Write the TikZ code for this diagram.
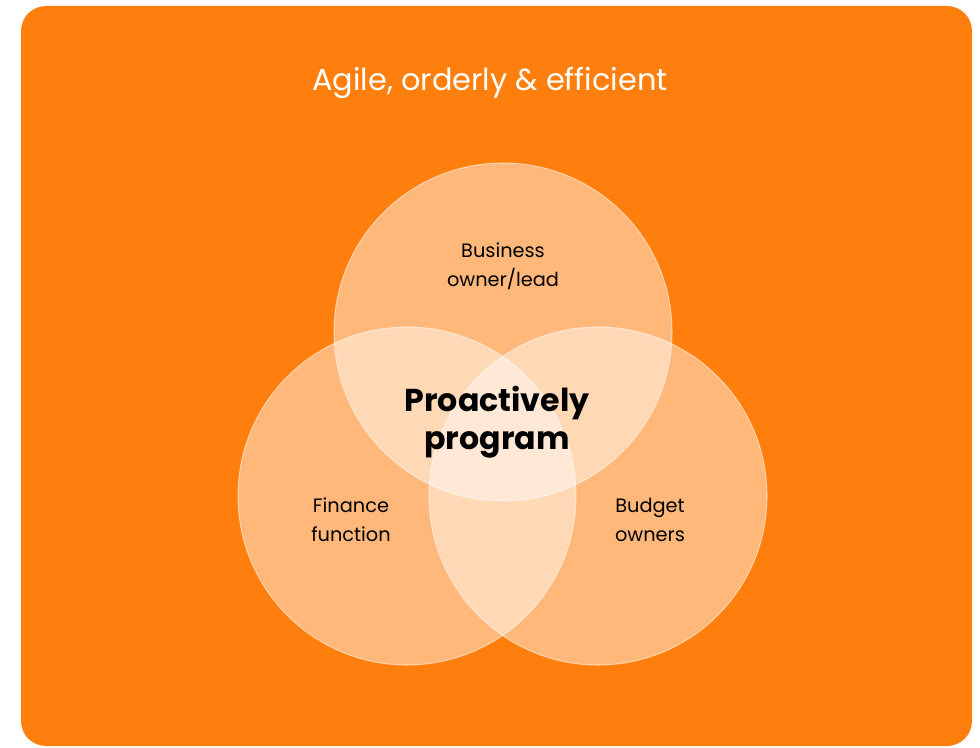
\documentclass[tikz,border=0pt]{standalone}
\usepackage{fontspec}
\setmainfont{Poppins}
\definecolor{brand}{HTML}{FF7F0E}

\begin{document}
\begin{tikzpicture}[
  ring/.style={circle, minimum size=6.76cm, fill=white, fill opacity=0.45, draw=white, draw opacity=0.5, line width=0.6pt},
  lbl/.style={align=center, font=\fontsize{11}{16.5}\selectfont, text=black}
]
\useasboundingbox (0,0) rectangle (19.6,14.94);
\fill[brand, rounded corners=0.5cm] (0.42,0.02) rectangle (19.44,14.82);
\node[text=white, font=\fontsize{17.3}{20}\selectfont] (title) at (9.8,13.28) {Agile, orderly \& efficient};
\node[ring] (top) at (10.06,8.30) {};
\node[ring] (left) at (8.14,5.02) {};
\node[ring] (right) at (11.96,5.02) {};
\node[lbl] (owner) at (10.06,9.62) {Business\\owner/lead};
\node[lbl] (finance) at (7.02,4.54) {Finance\\function};
\node[lbl] (budget) at (13.0,4.54) {Budget\\owners};
\node[align=center, font=\fontsize{18}{21.5}\selectfont\bfseries] (core) at (9.94,6.50) {Proactively\\program};
\end{tikzpicture}
\end{document}
